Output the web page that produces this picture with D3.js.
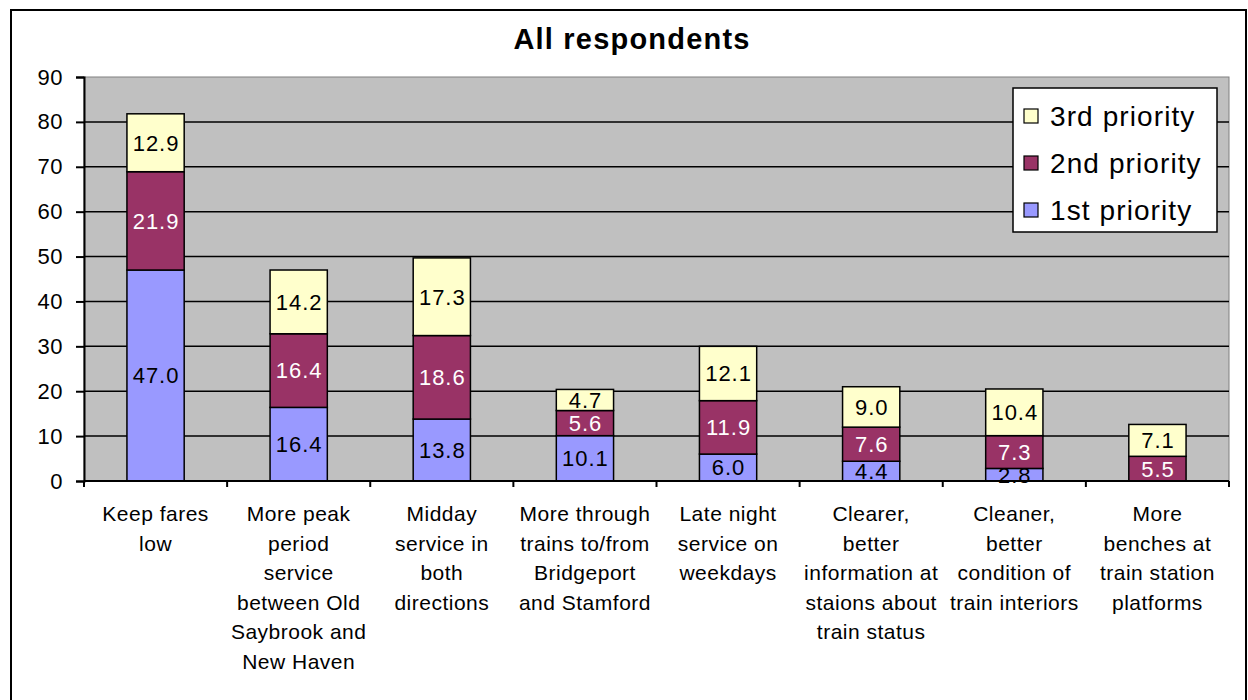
<!DOCTYPE html>
<html>
<head>
<meta charset="utf-8">
<script src="https://cdn.jsdelivr.net/npm/d3@7"></script>
<style>
  body { margin: 0; background: #fff; }
  svg { display: block; font-family: "Liberation Sans", Arial, sans-serif; }
</style>
</head>
<body>
<script>
// chart data
var categories = [
  ["Keep fares", "low"],
  ["More peak", "period", "service", "between Old", "Saybrook and", "New  Haven"],
  ["Midday", "service in", "both", "directions"],
  ["More through", "trains to/from", "Bridgeport", "and Stamford"],
  ["Late night", "service on", "weekdays"],
  ["Clearer,", "better", "information at", "staions about", "train status"],
  ["Cleaner,", "better", "condition of", "train interiors"],
  ["More", "benches at", "train station", "platforms"]
]
var first  = [47.0, 16.4, 13.8, 10.1, 6.0, 4.4, 2.8, 0.0]
var second = [21.9, 16.4, 18.6, 5.6, 11.9, 7.6, 7.3, 5.5]
var third  = [12.9, 14.2, 17.3, 4.7, 12.1, 9.0, 10.4, 7.1]
var seriesNames = ["1st priority", "2nd priority", "3rd priority"]
var yTicks = [0, 10, 20, 30, 40, 50, 60, 70, 80, 90]

var colors = ["#9999FF", "#993366", "#FFFFCC"]
var labelColors = ["#000", "#fff", "#000"]

var W = 1248, H = 700
var margin = {top: 77, left: 84, right: 19, bottom: 219}
var w = W - margin.left - margin.right,
    h = H - margin.top - margin.bottom

var svg = d3.select("body").append("svg").attr("width", W).attr("height", H)

// outer frame
svg.append("rect").attr("x", 11).attr("y", 10).attr("width", 1235).attr("height", 700)
  .attr("fill", "#fff").attr("stroke", "#000").attr("stroke-width", 2)

svg.append("text").attr("x", 632).attr("y", 49).attr("text-anchor", "middle")
  .attr("font-size", 29).attr("font-weight", "bold").attr("letter-spacing", 1.2)
  .text("All respondents")

var g = svg.append("g").attr("transform", `translate(${margin.left}, ${margin.top})`)

var idx = d3.range(categories.length)
var x = d3.scaleBand().domain(idx).range([0, w]).paddingInner(0.6).paddingOuter(0.3)
var y = d3.scaleLinear().domain([0, 90]).range([h, 0])

g.append("rect").attr("width", w).attr("height", h).attr("fill", "#C0C0C0")
  .attr("stroke", "#808080").attr("stroke-width", 1)

// gridlines
g.selectAll(".grid").data(yTicks.slice(1, -1)).enter().append("line")
  .attr("x1", 0).attr("x2", w).attr("y1", d => y(d)).attr("y2", d => y(d))
  .attr("stroke", "#000").attr("stroke-width", 1.5)

var table = idx.map(i => ({i: i, s0: first[i], s1: second[i], s2: third[i]}))
var stacked = d3.stack().keys(["s0", "s1", "s2"])(table)

var layers = g.selectAll(".layer").data(stacked).enter().append("g")

layers.selectAll("rect").data(d => d.filter(p => p[1] - p[0] > 0)).enter().append("rect")
  .attr("x", d => x(d.data.i))
  .attr("width", x.bandwidth())
  .attr("y", d => y(d[1]))
  .attr("height", d => y(d[0]) - y(d[1]))
  .attr("fill", function() { return colors[d3.select(this.parentNode).datum().index] })
  .attr("stroke", "#000").attr("stroke-width", 1.5)

layers.selectAll("text").data(d => d.filter(p => p[1] - p[0] > 0)).enter().append("text")
  .attr("x", d => x(d.data.i) + x.bandwidth() / 2 + 0.5)
  .attr("y", d => (y(d[0]) + y(d[1])) / 2)
  .attr("dy", "0.36em")
  .attr("text-anchor", "middle")
  .attr("font-size", 22).attr("letter-spacing", 1)
  .attr("fill", function() { return labelColors[d3.select(this.parentNode).datum().index] })
  .text(d => (d[1] - d[0]).toFixed(1))

// y axis
var yAxis = g.append("g").call(d3.axisLeft(y).tickValues(yTicks).tickSize(8).tickPadding(13))
yAxis.select(".domain").attr("stroke-width", 2)
yAxis.selectAll(".tick line").attr("stroke-width", 2)
yAxis.selectAll("text").attr("font-size", 22).attr("letter-spacing", 0.5)
  .attr("font-family", "Liberation Sans, Arial, sans-serif").attr("fill", "#000")

// x axis with ticks between categories
var step = w / categories.length
var xAxisG = g.append("g").attr("transform", `translate(0, ${h})`)
xAxisG.append("line").attr("x1", 0).attr("x2", w).attr("stroke", "#000").attr("stroke-width", 2)
xAxisG.selectAll(".xt").data(d3.range(categories.length + 1)).enter().append("line")
  .attr("x1", d => d * step).attr("x2", d => d * step).attr("y1", 0).attr("y2", 6)
  .attr("stroke", "#000").attr("stroke-width", 2)

xAxisG.selectAll(".cat").data(categories).enter().append("text")
  .attr("text-anchor", "middle").attr("font-size", 21).attr("letter-spacing", 0.5)
  .attr("transform", (d, i) => `translate(${x(i) + x.bandwidth() / 2}, 40)`)
  .selectAll("tspan").data(d => d).enter().append("tspan")
  .attr("x", 0).attr("y", (d, j) => j * 29.6).text(d => d)

// legend
var legend = svg.append("g").attr("transform", "translate(1013, 88)")
legend.append("rect").attr("width", 204).attr("height", 144)
  .attr("fill", "#fff").attr("stroke", "#000").attr("stroke-width", 1.5)
var items = legend.selectAll(".item").data(d3.range(3).reverse()).enter().append("g")
  .attr("transform", (d, k) => `translate(0, ${28 + k * 47})`)
items.append("rect").attr("x", 11).attr("y", -7).attr("width", 14).attr("height", 14)
  .attr("fill", d => colors[d]).attr("stroke", "#000").attr("stroke-width", 1.2)
items.append("text").attr("x", 37).attr("dy", "0.36em").attr("font-size", 28)
  .attr("letter-spacing", 1.1)
  .text(d => seriesNames[d])
</script>
</body>
</html>
